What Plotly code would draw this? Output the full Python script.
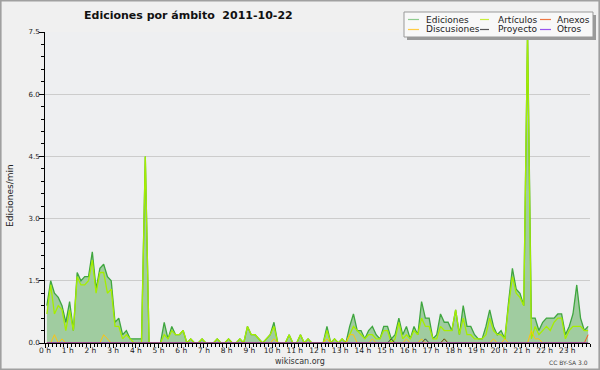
import plotly.graph_objects as go

# ---------------- data (edits per minute, 10-minute slots) ----------------
hour_labels = [f"{h} h" for h in range(24)]
slot_minutes = [i * 10 + 5 for i in range(144)]  # centre of each 10-min slot

ediciones = [
    0.9, 1.5, 1.2, 1.1, 0.9, 0.5,   # 0h
    1.0, 0.3, 1.7, 1.5, 1.6, 1.6,   # 1h
    2.2, 1.3, 1.8, 1.9, 1.6, 1.5,   # 2h
    0.5, 0.6, 0.2, 0.3, 0.1, 0.1,   # 3h
    0.1, 0.1, 4.5, 0.0, 0.0, 0.0,   # 4h
    0.0, 0.5, 0.1, 0.4, 0.2, 0.2,   # 5h
    0.3, 0.0, 0.1, 0.0, 0.0, 0.1,   # 6h
    0.0, 0.0, 0.0, 0.1, 0.0, 0.0,   # 7h
    0.1, 0.0, 0.0, 0.1, 0.0, 0.4,   # 8h
    0.2, 0.2, 0.1, 0.0, 0.1, 0.2,   # 9h
    0.5, 0.0, 0.0, 0.0, 0.2, 0.0,   # 10h
    0.0, 0.2, 0.0, 0.1, 0.0, 0.0,   # 11h
    0.0, 0.0, 0.4, 0.0, 0.1, 0.0,   # 12h
    0.1, 0.0, 0.4, 0.7, 0.3, 0.3,   # 13h
    0.1, 0.3, 0.4, 0.2, 0.1, 0.4,   # 14h
    0.4, 0.1, 0.2, 0.6, 0.2, 0.4,   # 15h
    0.1, 0.4, 0.2, 1.0, 0.6, 0.6,   # 16h
    0.1, 0.2, 0.7, 0.5, 0.5, 0.3,   # 17h
    0.8, 0.2, 0.9, 0.4, 0.4, 0.2,   # 18h
    0.1, 0.1, 0.4, 0.8, 0.4, 0.2,   # 19h
    0.3, 0.1, 1.0, 1.8, 1.3, 1.2,   # 20h
    0.9, 7.5, 0.6, 0.6, 0.3, 0.5,   # 21h
    0.6, 0.6, 0.6, 0.7, 0.7, 0.2,   # 22h
    0.4, 0.7, 1.4, 0.6, 0.3, 0.4,   # 23h
]

articulos = [
    0.7, 1.4, 0.7, 0.9, 0.8, 0.3,
    0.8, 0.3, 1.6, 1.4, 1.4, 1.5,
    2.0, 1.2, 1.7, 1.7, 1.2, 1.3,
    0.4, 0.4, 0.1, 0.2, 0.1, 0.0,
    0.0, 0.0, 4.5, 0.0, 0.0, 0.0,
    0.0, 0.2, 0.1, 0.3, 0.2, 0.2,
    0.3, 0.0, 0.1, 0.0, 0.0, 0.1,
    0.0, 0.0, 0.0, 0.1, 0.0, 0.0,
    0.1, 0.0, 0.0, 0.1, 0.0, 0.4,
    0.2, 0.2, 0.1, 0.0, 0.1, 0.2,
    0.4, 0.0, 0.0, 0.0, 0.2, 0.0,
    0.0, 0.2, 0.0, 0.1, 0.0, 0.0,
    0.0, 0.0, 0.3, 0.0, 0.1, 0.0,
    0.1, 0.0, 0.2, 0.4, 0.3, 0.2,
    0.1, 0.2, 0.2, 0.1, 0.1, 0.3,
    0.3, 0.0, 0.1, 0.5, 0.1, 0.2,
    0.1, 0.3, 0.2, 0.6, 0.4, 0.4,
    0.1, 0.1, 0.4, 0.3, 0.3, 0.3,
    0.8, 0.2, 0.6, 0.2, 0.2, 0.1,
    0.1, 0.1, 0.2, 0.6, 0.3, 0.2,
    0.2, 0.1, 0.9, 1.6, 1.2, 1.1,
    0.9, 7.5, 0.1, 0.4, 0.2, 0.3,
    0.4, 0.3, 0.5, 0.6, 0.6, 0.1,
    0.3, 0.4, 0.4, 0.4, 0.3, 0.3,
]

discusiones = [
    0.0, 0.0, 0.2, 0.0, 0.1, 0.0,
    0.0, 0.0, 0.0, 0.0, 0.0, 0.0,
    0.0, 0.0, 0.0, 0.2, 0.1, 0.0,
    0.0, 0.0, 0.0, 0.0, 0.0, 0.0,
    0.0, 0.0, 0.0, 0.0, 0.0, 0.0,
    0.0, 0.0, 0.0, 0.0, 0.0, 0.0,
    0.0, 0.0, 0.0, 0.0, 0.0, 0.0,
    0.0, 0.0, 0.0, 0.0, 0.0, 0.0,
    0.0, 0.0, 0.0, 0.0, 0.0, 0.0,
    0.0, 0.0, 0.0, 0.0, 0.0, 0.0,
    0.1, 0.0, 0.0, 0.0, 0.0, 0.0,
    0.0, 0.0, 0.0, 0.0, 0.0, 0.0,
    0.0, 0.0, 0.1, 0.0, 0.0, 0.0,
    0.0, 0.0, 0.2, 0.2, 0.0, 0.0,
    0.0, 0.0, 0.1, 0.0, 0.0, 0.0,
    0.0, 0.0, 0.0, 0.0, 0.0, 0.1,
    0.0, 0.0, 0.0, 0.1, 0.0, 0.0,
    0.0, 0.0, 0.0, 0.1, 0.0, 0.0,
    0.0, 0.0, 0.0, 0.0, 0.0, 0.0,
    0.0, 0.0, 0.0, 0.0, 0.1, 0.0,
    0.0, 0.1, 0.0, 0.0, 0.0, 0.0,
    0.0, 0.0, 0.3, 0.1, 0.1, 0.0,
    0.0, 0.0, 0.0, 0.0, 0.0, 0.0,
    0.0, 0.0, 0.0, 0.0, 0.0, 0.0,
]

anexos = [0.0] * 143 + [0.2]

proyecto = [
    0.0, 0.0, 0.0, 0.0, 0.0, 0.0,
    0.0, 0.0, 0.0, 0.0, 0.0, 0.0,
    0.0, 0.0, 0.0, 0.0, 0.0, 0.0,
    0.0, 0.0, 0.0, 0.0, 0.0, 0.0,
    0.0, 0.0, 0.0, 0.0, 0.0, 0.0,
    0.0, 0.0, 0.0, 0.0, 0.0, 0.0,
    0.0, 0.0, 0.0, 0.0, 0.0, 0.0,
    0.0, 0.0, 0.0, 0.0, 0.0, 0.0,
    0.0, 0.0, 0.0, 0.0, 0.0, 0.0,
    0.0, 0.0, 0.0, 0.0, 0.0, 0.0,
    0.0, 0.0, 0.0, 0.0, 0.0, 0.0,
    0.0, 0.0, 0.0, 0.0, 0.0, 0.0,
    0.0, 0.0, 0.0, 0.0, 0.0, 0.0,
    0.0, 0.0, 0.0, 0.0, 0.0, 0.0,
    0.0, 0.0, 0.0, 0.0, 0.0, 0.0,
    0.0, 0.1, 0.0, 0.0, 0.0, 0.0,
    0.0, 0.0, 0.0, 0.0, 0.1, 0.0,
    0.0, 0.0, 0.0, 0.1, 0.0, 0.0,
    0.0, 0.0, 0.0, 0.0, 0.0, 0.0,
    0.0, 0.0, 0.0, 0.0, 0.0, 0.0,
    0.0, 0.0, 0.0, 0.0, 0.0, 0.0,
    0.0, 0.0, 0.0, 0.0, 0.0, 0.0,
    0.0, 0.0, 0.0, 0.0, 0.0, 0.0,
    0.0, 0.0, 0.0, 0.0, 0.0, 0.0,
]

otros = [0.0] * 144

series_names = ["Ediciones", "Artículos", "Anexos", "Discusiones", "Proyecto", "Otros"]
legend_colors = ["#8fcc8f", "#c8ee3c", "#ee7744", "#ffcc44", "#555555", "#9955ee"]

# ---------------- figure ----------------
x_hours = [m / 60 for m in slot_minutes]
FONT = "DejaVu Sans"

fig = go.Figure()
fig.add_trace(go.Scatter(x=x_hours, y=ediciones, mode="lines", name="Ediciones",
                         line=dict(color="#3fa63f", width=1.3),
                         fill="tozeroy", fillcolor="#a0cca0"))
fig.add_trace(go.Scatter(x=x_hours, y=articulos, mode="lines", name="Artículos",
                         line=dict(color="#a6ee00", width=1.3)))
fig.add_trace(go.Scatter(x=x_hours, y=discusiones, mode="lines", name="Discusiones",
                         line=dict(color="#ffc40d", width=1)))
fig.add_trace(go.Scatter(x=x_hours, y=anexos, mode="lines", name="Anexos",
                         line=dict(color="#ff5a1f", width=1)))
fig.add_trace(go.Scatter(x=x_hours, y=proyecto, mode="lines", name="Proyecto",
                         line=dict(color="#222222", width=0.8)))
fig.add_trace(go.Scatter(x=x_hours, y=otros, mode="lines", name="Otros",
                         line=dict(color="#9933ee", width=1)))

L, R, T, B = 45, 10, 32, 27
W, H = 600, 370
PW, PH = W - L - R, H - T - B


def px(x):
    return (x - L) / PW


def py(y):
    return (H - B - y) / PH


shapes = [
    # outer frame
    dict(type="rect", xref="paper", yref="paper", x0=px(0.8), x1=px(599.2), y0=py(0.8), y1=py(369.2),
         line=dict(color="#a0a0a0", width=1.6), fillcolor="rgba(0,0,0,0)", layer="above"),
    # legend shadow + box
    dict(type="rect", xref="paper", yref="paper", x0=px(407), x1=px(596), y0=py(15), y1=py(40),
         line=dict(width=0), fillcolor="#9a9a9a", layer="above"),
    dict(type="rect", xref="paper", yref="paper", x0=px(404), x1=px(593), y0=py(12), y1=py(37),
         line=dict(color="#999999", width=1), fillcolor="#f8f8f8", layer="above"),
]

annotations = [
    dict(text="<b>Ediciones por ámbito \u00a02011-10-22</b>", x=px(188), y=py(15), xref="paper", yref="paper",
         showarrow=False, xanchor="center", yanchor="middle", font=dict(family=FONT, size=11, color="#111")),
    dict(text="Ediciones/min", x=px(10), y=py(196), xref="paper", yref="paper", textangle=-90,
         showarrow=False, xanchor="center", yanchor="middle", font=dict(family=FONT, size=9, color="#222")),
    dict(text="wikiscan.org", x=px(300), y=py(361.5), xref="paper", yref="paper",
         showarrow=False, xanchor="center", yanchor="middle", font=dict(family=FONT, size=8, color="#333")),
    dict(text="CC BY-SA 3.0", x=px(590), y=py(362), xref="paper", yref="paper",
         showarrow=False, xanchor="right", yanchor="middle", font=dict(family=FONT, size=6, color="#444")),
]

cols = [(408, 419, 424), (480, 489, 496), (540, 551, 555)]
rows = [19.5, 29.5]
for k, (name, col) in enumerate(zip(series_names, legend_colors)):
    r, c = divmod(k, 3)
    lx0, lx1, tx = cols[c]
    yy = rows[r]
    shapes.append(dict(type="line", xref="paper", yref="paper", x0=px(lx0), x1=px(lx1),
                       y0=py(yy), y1=py(yy), line=dict(color=col, width=1.2), layer="above"))
    annotations.append(dict(text=name, x=px(tx), y=py(yy), xref="paper", yref="paper",
                            showarrow=False, xanchor="left", yanchor="middle",
                            font=dict(family=FONT, size=9, color="#222")))

fig.update_layout(
    width=W, height=H, autosize=False,
    margin=dict(l=L, r=R, t=T, b=B, pad=0),
    paper_bgcolor="#f0f0f0", plot_bgcolor="#eeeff1",
    showlegend=False,
    shapes=shapes, annotations=annotations,
    font=dict(family=FONT, color="#222"),
    xaxis=dict(range=[0, 24], showline=True, linecolor="black", linewidth=1,
               ticks="outside", ticklen=4, tickcolor="black", tickwidth=1,
               tickmode="array", tickvals=list(range(24)), ticktext=hour_labels,
               tickfont=dict(family=FONT, size=7.5, color="#222"),
               ticklabelstandoff=-4,
               showgrid=False, zeroline=False, fixedrange=True,
               minor=dict(dtick=1 / 6, tick0=0, ticklen=3, ticks="outside", tickcolor="black",
                          showgrid=False)),
    yaxis=dict(range=[0, 7.5], tick0=0, dtick=1.5, tickformat=".1f",
               showline=True, linecolor="black", linewidth=1,
               ticks="outside", ticklen=5, tickcolor="black", tickwidth=1,
               tickfont=dict(family=FONT, size=7, color="#222"),
               ticklabelstandoff=-2,
               showgrid=True, gridcolor="#cccccc", gridwidth=1, zeroline=False,
               minor=dict(dtick=0.3, tick0=0, ticklen=3, ticks="outside", tickcolor="black",
                          showgrid=False)),
)

fig.write_html("out.html", config={"displayModeBar": False},
               post_script="document.body.style.margin='0';document.body.style.padding='0';"
                           "document.body.style.overflow='hidden';")
